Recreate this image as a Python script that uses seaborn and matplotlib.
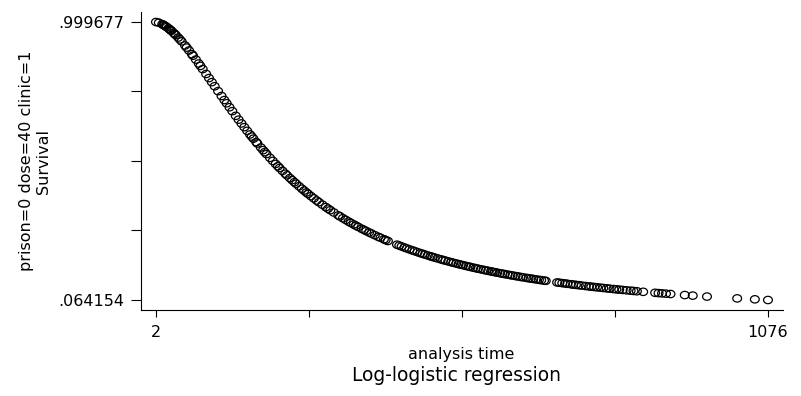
import numpy as np
import pandas as pd
import matplotlib
matplotlib.use("Agg")
import matplotlib.pyplot as plt
from matplotlib.path import Path
import seaborn as sns

# Predicted survival for the covariate pattern prison=0 dose=40 clinic=1
analysis_time = [
    2, 7, 13, 15, 17, 19, 21, 24, 26, 28, 29, 33, 35, 37, 41, 44, 47, 53, 56, 60,
    65, 67, 72, 77, 80, 84, 90, 95, 100, 105, 111, 117, 122, 126, 131, 136, 142, 147, 152, 157,
    162, 167, 170, 173, 178, 180, 186, 190, 193, 196, 202, 207, 212, 216, 219, 224, 229, 232, 237, 241,
    245, 248, 253, 258, 262, 266, 269, 274, 279, 284, 288, 294, 300, 304, 308, 314, 322, 325, 330, 335,
    340, 344, 349, 353, 357, 363, 367, 371, 376, 380, 386, 392, 396, 402, 405, 409, 425, 429, 433, 438,
    442, 447, 452, 456, 461, 466, 470, 474, 479, 484, 487, 491, 496, 502, 506, 510, 515, 520, 524, 529,
    533, 537, 541, 546, 551, 554, 559, 563, 567, 572, 577, 581, 585, 590, 593, 597, 601, 606, 610, 614,
    619, 624, 628, 633, 637, 642, 646, 652, 656, 660, 664, 669, 674, 678, 683, 686, 706, 710, 715, 720,
    724, 730, 734, 739, 744, 749, 756, 762, 766, 771, 776, 782, 787, 793, 798, 805, 810, 815, 821, 828,
    835, 840, 846, 857, 878, 884, 890, 897, 905, 930, 944, 969, 1022, 1053, 1076,
]
survival = [
    0.999677, 0.9973, 0.9922, 0.9901, 0.9877, 0.9852, 0.9825, 0.9782, 0.9750, 0.9718,
    0.9701, 0.9630, 0.9593, 0.9554, 0.9473, 0.9410, 0.9344, 0.9207, 0.9135, 0.9038,
    0.8913, 0.8862, 0.8732, 0.8600, 0.8519, 0.8411, 0.8248, 0.8110, 0.7973, 0.7835,
    0.7670, 0.7506, 0.7370, 0.7262, 0.7128, 0.6996, 0.6839, 0.6710, 0.6583, 0.6458,
    0.6334, 0.6213, 0.6142, 0.6071, 0.5954, 0.5908, 0.5773, 0.5684, 0.5618, 0.5553,
    0.5426, 0.5323, 0.5221, 0.5141, 0.5083, 0.4987, 0.4892, 0.4837, 0.4746, 0.4675,
    0.4605, 0.4554, 0.4470, 0.4387, 0.4323, 0.4260, 0.4213, 0.4137, 0.4062, 0.3989,
    0.3932, 0.3849, 0.3768, 0.3715, 0.3663, 0.3587, 0.3489, 0.3453, 0.3394, 0.3337,
    0.3281, 0.3237, 0.3184, 0.3142, 0.3101, 0.3040, 0.3001, 0.2962, 0.2915, 0.2878,
    0.2823, 0.2770, 0.2736, 0.2685, 0.2660, 0.2628, 0.2503, 0.2473, 0.2444, 0.2408,
    0.2380, 0.2345, 0.2311, 0.2285, 0.2252, 0.2220, 0.2195, 0.2170, 0.2140, 0.2110,
    0.2093, 0.2070, 0.2042, 0.2009, 0.1987, 0.1966, 0.1940, 0.1914, 0.1894, 0.1869,
    0.1850, 0.1831, 0.1812, 0.1789, 0.1766, 0.1752, 0.1730, 0.1713, 0.1696, 0.1675,
    0.1655, 0.1638, 0.1622, 0.1603, 0.1591, 0.1576, 0.1561, 0.1542, 0.1528, 0.1513,
    0.1496, 0.1478, 0.1465, 0.1448, 0.1435, 0.1418, 0.1405, 0.1387, 0.1374, 0.1362,
    0.1350, 0.1335, 0.1320, 0.1309, 0.1295, 0.1286, 0.1232, 0.1222, 0.1209, 0.1197,
    0.1187, 0.1172, 0.1162, 0.1151, 0.1139, 0.1128, 0.1112, 0.1098, 0.1090, 0.1079,
    0.1069, 0.1056, 0.1046, 0.1034, 0.1024, 0.1010, 0.1001, 0.0991, 0.0980, 0.0967,
    0.0955, 0.0946, 0.0936, 0.0917, 0.0884, 0.0874, 0.0865, 0.0855, 0.0843, 0.0808,
    0.0789, 0.0757, 0.0696, 0.0664, 0.064154,
]

x_range = [2, 1076]
y_range = [0.064154, 0.999677]
x_tick_labels = ["2", "", "", "", "1076"]
y_tick_labels = [".999677", "", "", "", ".064154"]
y_title = "prison=0 dose=40 clinic=1\nSurvival"
x_title = "analysis time"
caption = "Log-logistic regression"

sns.set_style("ticks")
plt.rcParams["font.family"] = ["DejaVu Sans"]
plt.rcParams["text.color"] = "black"
plt.rcParams["axes.labelcolor"] = "black"

W, H = 801, 396
fig = plt.figure(figsize=(W / 100, H / 100), dpi=100)
ax = fig.add_axes([141 / W, 1 - 310 / H, (783 - 141) / W, (310 - 12) / H])

# hollow, slightly wide circle marker
unit = Path.unit_circle()
ring = Path(unit.vertices * np.array([1.0, 0.84]), unit.codes)

df = pd.DataFrame({"time": analysis_time, "surv": survival})
sns.scatterplot(
    data=df, x="time", y="surv", ax=ax, marker=ring, s=40,
    facecolor="none", edgecolor="black", linewidth=0.9, legend=False,
)

ax.set_xlim(-24.3, 1102.4)
ax.set_ylim(0.0305, 1.0333)

ax.set_xticks(np.linspace(x_range[0], x_range[1], 5))
ax.set_xticklabels(x_tick_labels)
ax.set_yticks(np.linspace(y_range[1], y_range[0], 5))
ax.set_yticklabels(y_tick_labels)

sns.despine(ax=ax)
for side in ("left", "bottom"):
    ax.spines[side].set_linewidth(0.8)
    ax.spines[side].set_color("black")
ax.tick_params(axis="both", colors="black", labelsize=11.5, width=0.8, direction="out")
ax.tick_params(axis="y", length=7, pad=5)
ax.tick_params(axis="x", length=5, pad=6)

ax.set_xlabel("")
ax.set_ylabel(y_title, fontsize=11.5, linespacing=1.15, color="black")
ax.yaxis.label.set_verticalalignment("center")
ax.yaxis.set_label_coords((35 - 141) / (783 - 141), 0.5)

fig.text(461 / W, 1 - 359 / H, x_title, ha="center", va="baseline",
         fontsize=11.5, color="black")
fig.text(457 / W, 1 - 381 / H, caption, ha="center", va="baseline",
         fontsize=13.4, color="black")

fig.savefig("out.png", dpi=100)
